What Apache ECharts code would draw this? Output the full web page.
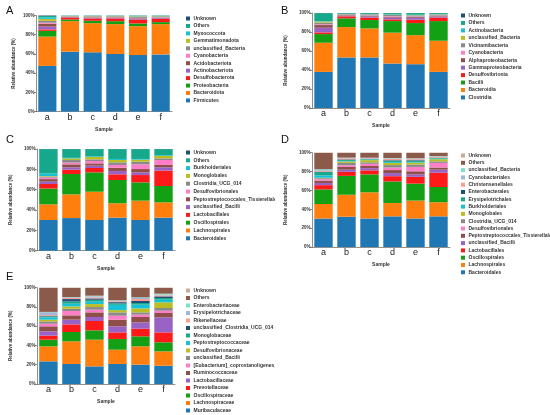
<!DOCTYPE html>
<html>
<head>
<meta charset="utf-8">
<script src="https://cdn.jsdelivr.net/npm/echarts@6/dist/echarts.min.js"></script>
<style>
  html, body { margin: 0; padding: 0; background: #fff; }
  #wrap { position: relative; width: 550px; height: 415px; overflow: hidden; }
  .panel { position: absolute; width: 275px; height: 140px; }
  .letter { position: absolute; font-family: Arial, "Liberation Sans", sans-serif; font-size: 11px; line-height: 11px; color: #111; }
</style>
</head>
<body>
<div id="wrap">
  <div class="panel" id="chartA" style="left:0;top:0"></div>
  <div class="panel" id="chartB" style="left:275px;top:0"></div>
  <div class="panel" id="chartC" style="left:0;top:140px"></div>
  <div class="panel" id="chartD" style="left:275px;top:140px"></div>
  <div class="panel" id="chartE" style="left:0;top:275px"></div>
  <div class="letter" style="left:6px;top:5px">A</div>
  <div class="letter" style="left:281px;top:5px">B</div>
  <div class="letter" style="left:6px;top:134px">C</div>
  <div class="letter" style="left:281px;top:134px">D</div>
  <div class="letter" style="left:6px;top:271px">E</div>
</div>
<script>
// samples on the x axis
const samples = ["a", "b", "c", "d", "e", "f"];
const yTicks = [0, 20, 40, 60, 80, 100];

// colours, bottom of the stack first
const colors12 = ["#1f77b4", "#ff7f0e", "#14a014", "#ff1a1a", "#9a62c4", "#8e4f4a",
  "#ff7ec8", "#8a8a8a", "#bcbd22", "#17c2d6", "#16a88a", "#1f4e79"];
const colors17 = ["#1f77b4", "#ff7f0e", "#14a014", "#ff1a1a", "#9a62c4", "#8e4f4a",
  "#ff7ec8", "#8a8a8a", "#bcbd22", "#17c2d6", "#16a88a", "#1f4e79",
  "#ff9a90", "#a3b5d3", "#7fe0c8", "#8c5a4a", "#c9ab93"];

// A - phylum (bottom of the stack first, values in % per sample a..f)
const phylumNames = ["Firmicutes", "Bacteroidota", "Proteobacteria", "Desulfobacterota",
  "Actinobacteriota", "Acidobacteriota", "Cyanobacteria", "unclassified_Bacteria",
  "Gemmatimonadota", "Myxococcota", "Others", "Unknown"];
const phylumValues = [
  [47.5, 62.3, 61.6, 59.9, 58.8, 59.5],
  [30.5, 31.8, 30.4, 31.1, 30.1, 31.5],
  [6.0, 1.7, 2.5, 3.1, 2.8, 2.1],
  [1.5, 2.0, 2.4, 2.8, 4.1, 3.4],
  [3.0, 0.4, 0.6, 0.6, 0.8, 0.6],
  [3.0, 0.3, 0.5, 0.5, 0.6, 0.5],
  [1.0, 0.3, 0.3, 0.3, 0.4, 0.4],
  [2.0, 0.5, 0.8, 0.8, 1.2, 1.0],
  [2.0, 0.2, 0.3, 0.3, 0.4, 0.3],
  [1.5, 0.1, 0.1, 0.1, 0.2, 0.1],
  [1.5, 0.3, 0.4, 0.4, 0.5, 0.5],
  [0.5, 0.1, 0.1, 0.1, 0.1, 0.1]
];

// B - class
const classNames = ["Clostridia", "Bacteroidia", "Bacilli", "Desulfovibrionia",
  "Gammaproteobacteria", "Alphaproteobacteria", "Cyanobacteria", "Vicinamibacteria",
  "unclassified_Bacteria", "Actinobacteria", "Others", "Unknown"];
const classValues = [
  [38.0, 53.2, 53.2, 46.8, 46.1, 38.0],
  [30.7, 32.0, 30.6, 32.5, 30.6, 32.8],
  [9.1, 9.2, 8.8, 12.2, 12.7, 20.7],
  [1.8, 2.1, 2.5, 1.8, 3.6, 3.6],
  [4.9, 0.8, 1.2, 1.8, 2.0, 1.0],
  [2.8, 0.5, 0.8, 1.0, 0.8, 0.6],
  [0.8, 0.3, 0.4, 0.6, 0.6, 0.5],
  [1.8, 0.6, 1.0, 1.2, 1.0, 1.2],
  [1.1, 0.2, 0.2, 0.3, 0.3, 0.3],
  [0.3, 0.2, 0.3, 0.4, 0.5, 0.3],
  [8.5, 0.8, 0.9, 1.3, 1.7, 0.9],
  [0.2, 0.1, 0.1, 0.1, 0.1, 0.1]
];

// C - order (top 10)
const orderNames = ["Bacteroidales", "Lachnospirales", "Oscillospirales", "Lactobacillales",
  "unclassified_Bacilli", "Peptostreptococcales_Tissierellales", "Desulfovibrionales",
  "Clostridia_UCG_014", "Monoglobales", "Burkholderiales", "Others", "Unknown"];
const orderValues = [
  [30.2, 32.1, 30.2, 32.5, 30.2, 32.5],
  [15.4, 23.3, 27.8, 14.1, 19.0, 15.0],
  [15.5, 20.0, 19.0, 22.9, 18.0, 16.1],
  [4.5, 4.3, 4.3, 5.6, 7.2, 15.1],
  [2.3, 2.3, 2.3, 3.3, 2.6, 3.3],
  [2.5, 2.9, 2.3, 3.2, 3.3, 2.3],
  [1.5, 1.7, 2.3, 2.7, 4.6, 4.9],
  [1.0, 2.6, 1.6, 2.6, 2.6, 1.6],
  [0.5, 1.5, 2.3, 2.3, 2.0, 2.3],
  [2.5, 0.6, 0.7, 1.0, 0.7, 0.7],
  [24.0, 8.6, 7.1, 9.7, 9.7, 6.1],
  [0.1, 0.1, 0.1, 0.1, 0.1, 0.1]
];

// D - order (top 15)
const order15Names = ["Bacteroidales", "Lachnospirales", "Oscillospirales", "Lactobacillales",
  "unclassified_Bacilli", "Peptostreptococcales_Tissierellales", "Desulfovibrionales",
  "Clostridia_UCG_014", "Monoglobales", "Burkholderiales", "Erysipelotrichales",
  "Enterobacterales", "Christensenellales", "Cyanobacteriales", "unclassified_Bacteria",
  "Others", "Unknown"];
const order15Values = [
  [30.2, 32.1, 30.2, 32.5, 30.2, 32.5],
  [15.4, 23.3, 27.8, 14.1, 19.0, 15.0],
  [15.5, 20.0, 19.0, 22.9, 18.0, 16.1],
  [4.5, 4.3, 4.3, 5.6, 7.2, 15.1],
  [2.3, 2.3, 2.3, 3.3, 2.6, 3.3],
  [2.5, 2.9, 2.3, 3.2, 3.3, 2.3],
  [1.5, 1.7, 2.3, 2.7, 4.6, 4.9],
  [1.0, 2.6, 1.6, 2.6, 2.6, 1.6],
  [0.5, 1.5, 2.3, 2.3, 2.0, 2.3],
  [2.5, 0.6, 0.7, 1.0, 0.7, 0.7],
  [3.6, 1.0, 0.5, 1.4, 1.3, 0.7],
  [0.4, 0.6, 0.2, 0.5, 0.6, 0.3],
  [0.8, 1.0, 0.6, 1.2, 1.0, 0.8],
  [0.8, 0.5, 0.3, 0.6, 0.5, 0.5],
  [1.0, 0.4, 0.3, 0.5, 0.5, 0.3],
  [17.4, 5.1, 5.2, 5.5, 5.8, 3.5],
  [0.1, 0.1, 0.1, 0.1, 0.1, 0.1]
];

// E - family
const familyNames = ["Muribaculaceae", "Lachnospiraceae", "Oscillospiraceae", "Prevotellaceae",
  "Lactobacillaceae", "Ruminococcaceae", "[Eubacterium]_coprostanoligenes_group",
  "unclassified_Bacilli", "Desulfovibrionaceae", "Peptostreptococcaceae", "Monoglobaceae",
  "unclassified_Clostridia_UCG_014", "Rikenellaceae", "Erysipelotrichaceae",
  "Enterobacteriaceae", "Others", "Unknown"];
const familyValues = [
  [23.5, 20.8, 18.3, 20.8, 20.1, 19.0],
  [15.6, 23.5, 27.7, 14.8, 19.0, 14.9],
  [6.9, 9.7, 9.7, 11.1, 10.4, 9.4],
  [4.2, 7.9, 9.7, 6.9, 7.9, 10.3],
  [4.5, 4.9, 4.2, 6.3, 6.6, 15.6],
  [5.2, 4.5, 4.8, 6.9, 5.6, 4.5],
  [2.7, 4.5, 2.8, 4.1, 2.4, 2.4],
  [2.4, 2.4, 2.7, 3.5, 2.4, 2.8],
  [1.8, 2.4, 3.1, 2.3, 4.1, 5.9],
  [2.4, 2.8, 2.5, 5.5, 3.9, 2.7],
  [1.0, 2.4, 2.0, 1.5, 1.7, 1.8],
  [0.7, 2.4, 1.4, 1.3, 2.1, 1.7],
  [0.7, 1.1, 1.1, 0.9, 2.0, 1.0],
  [3.0, 0.7, 1.0, 0.6, 1.1, 0.7],
  [0.3, 0.3, 0.7, 0.4, 0.7, 1.1],
  [25.0, 9.6, 8.2, 13.0, 9.9, 6.1],
  [0.1, 0.1, 0.1, 0.1, 0.1, 0.1]
];

const font = "Arial, 'Liberation Sans', sans-serif";

// one stacked bar panel; g = grid box and legend placement in panel pixels
function createPanel(id, names, values, colors, g) {
  var myChart = echarts.init(document.getElementById(id), null, { renderer: "canvas" });
  let series = names.map((n, i) => ({
    name: n,
    type: "bar",
    stack: "total",
    barCategoryGap: "20%",
    data: values[i],
    itemStyle: { color: colors[i] },
    emphasis: { disabled: true },
  }));
  // legend lists the top of the stack first
  let legendData = names.slice().reverse().map((n) => ({
    name: n,
    itemStyle: { color: colors[names.indexOf(n)] },
  }));
  let option = {
    animation: false,
    textStyle: { fontFamily: font },
    grid: {
      left: g.left,
      top: g.top,
      width: g.width,
      height: g.height,
    },
    legend: {
      orient: "vertical",
      left: 186,
      top: g.legendTop,
      itemWidth: 4,
      itemHeight: 4,
      itemGap: g.legendGap,
      icon: "rect",
      padding: 0,
      selectedMode: false,
      textStyle: { fontSize: 5, fontWeight: "bold", color: "#333", fontFamily: font, padding: [0, 0, 0, -1.5] },
      data: legendData,
    },
    xAxis: {
      type: "category",
      data: samples,
      axisTick: { show: false },
      axisLine: { lineStyle: { color: "#444", width: 0.6 } },
      axisLabel: { fontSize: 9, color: "#222", margin: 1.5 },
      name: "Sample",
      nameLocation: "middle",
      nameGap: g.nameGapX,
      nameTextStyle: { fontSize: 5, fontWeight: "bold", color: "#333" },
    },
    yAxis: {
      type: "value",
      min: yTicks[0],
      max: yTicks[yTicks.length - 1],
      interval: yTicks[1] - yTicks[0],
      splitLine: { show: false },
      axisLine: { show: true, lineStyle: { color: "#444", width: 0.6 } },
      axisTick: { show: true, length: 2, lineStyle: { color: "#444", width: 0.6 } },
      axisLabel: { fontSize: 4.5, fontWeight: "bold", color: "#333", margin: 1.5, formatter: "{value}%" },
      name: "Relative abundance (%)",
      nameLocation: "middle",
      nameRotate: 90,
      nameGap: 20,
      nameTextStyle: { fontSize: 4.5, fontWeight: "bold", color: "#333" },
    },
    series: series,
  };
  myChart.setOption(option);
}

createPanel("chartA", phylumNames, phylumValues, colors12,
  { left: 36, top: 15.5, width: 136, height: 96, legendTop: 16, legendGap: 2.45, nameGapX: 8 });
createPanel("chartB", classNames, classValues, colors12,
  { left: 37, top: 13, width: 138, height: 95, legendTop: 13, legendGap: 2.45, nameGapX: 7.5 });
createPanel("chartC", orderNames, orderValues, colors12,
  { left: 35, top: 9, width: 140, height: 101.7, legendTop: 10, legendGap: 2.8, nameGapX: 8 });
createPanel("chartD", order15Names, order15Values, colors17,
  { left: 37, top: 12.7, width: 138, height: 94.3, legendTop: 13, legendGap: 2.3, nameGapX: 6.5 });
createPanel("chartE", familyNames, familyValues, colors17,
  { left: 35, top: 12.7, width: 140, height: 96.3, legendTop: 13, legendGap: 2.5, nameGapX: 8.5 });
</script>
</body>
</html>
